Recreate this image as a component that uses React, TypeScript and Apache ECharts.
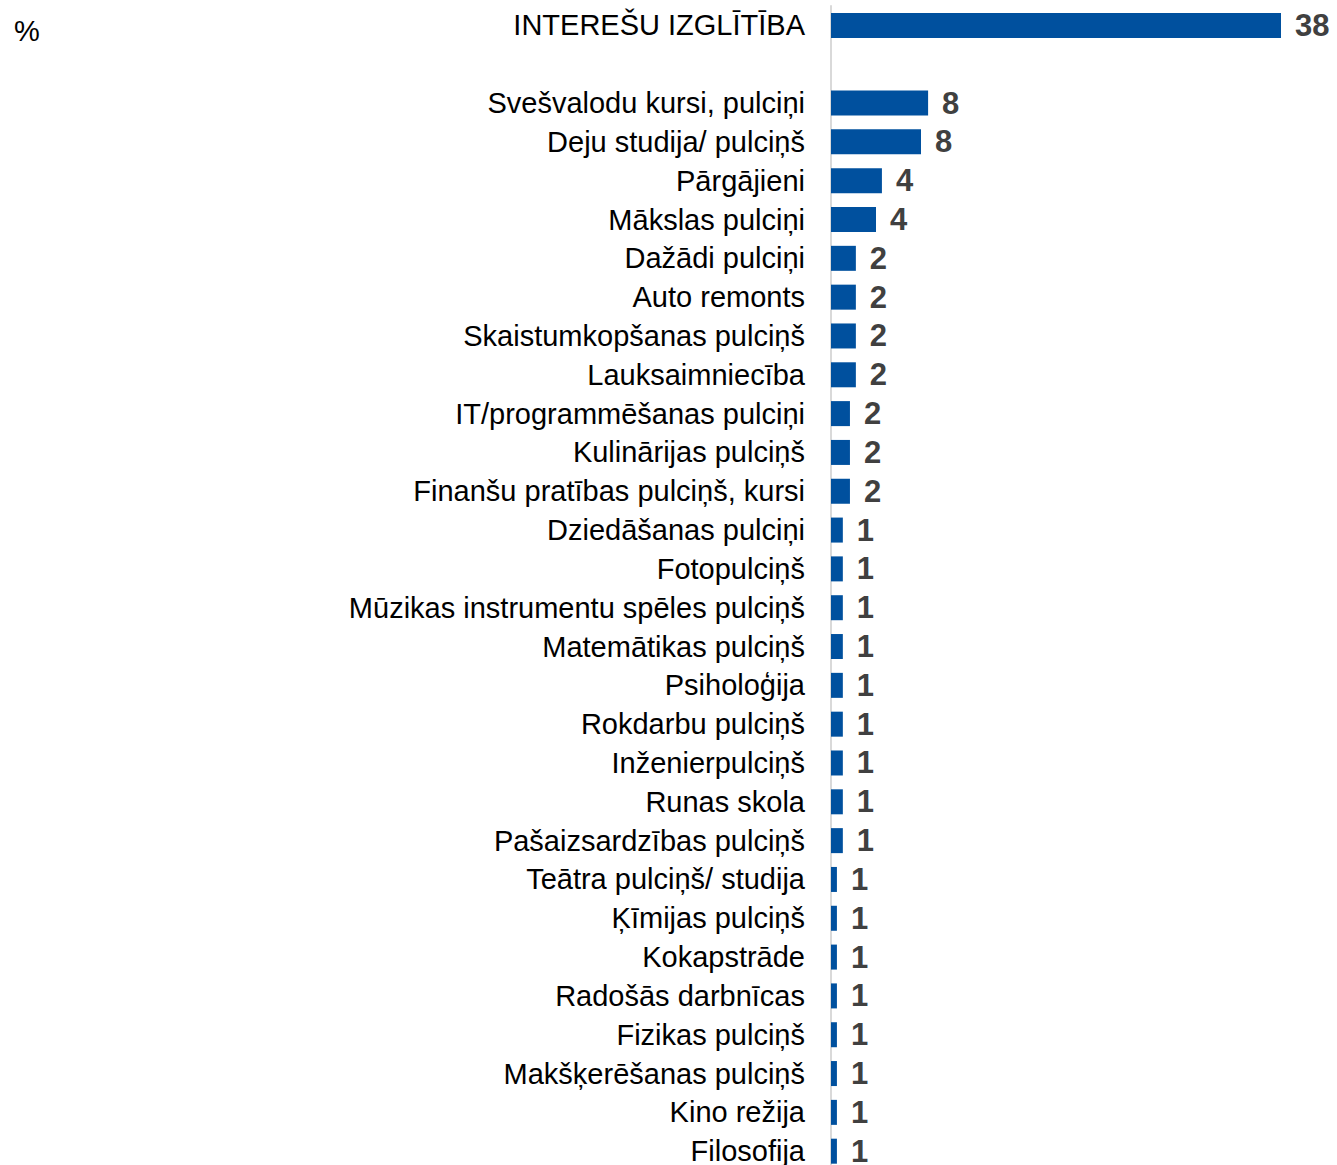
import React, { useEffect, useRef } from "react";
import * as echarts from "echarts";

const categories: string[] = [
  "INTEREŠU IZGLĪTĪBA",
  "",
  "Svešvalodu kursi, pulciņi",
  "Deju studija/ pulciņš",
  "Pārgājieni",
  "Mākslas pulciņi",
  "Dažādi pulciņi",
  "Auto remonts",
  "Skaistumkopšanas pulciņš",
  "Lauksaimniecība",
  "IT/programmēšanas pulciņi",
  "Kulinārijas pulciņš",
  "Finanšu pratības pulciņš, kursi",
  "Dziedāšanas pulciņi",
  "Fotopulciņš",
  "Mūzikas instrumentu spēles pulciņš",
  "Matemātikas pulciņš",
  "Psiholoģija",
  "Rokdarbu pulciņš",
  "Inženierpulciņš",
  "Runas skola",
  "Pašaizsardzības pulciņš",
  "Teātra pulciņš/ studija",
  "Ķīmijas pulciņš",
  "Kokapstrāde",
  "Radošās darbnīcas",
  "Fizikas pulciņš",
  "Makšķerēšanas pulciņš",
  "Kino režija",
  "Filosofija",
];

const values: (number | null)[] = [
  38.0, null,
  8.2, 7.6, 4.3, 3.8,
  2.1, 2.1, 2.1, 2.1,
  1.6, 1.6, 1.6,
  1.0, 1.0, 1.0, 1.0, 1.0, 1.0, 1.0, 1.0, 1.0,
  0.5, 0.5, 0.5, 0.5, 0.5, 0.5, 0.5, 0.5,
];

const unitLabel = "%";

export default function App() {
  const ref = useRef<HTMLDivElement>(null);
  useEffect(() => {
    document.body.style.margin = "0";
    const chart = echarts.init(ref.current!, null, { renderer: "svg" });
    chart.setOption({
      animation: false,
      backgroundColor: "#ffffff",
      textStyle: { fontFamily: "Liberation Sans, Arial, sans-serif" },
      graphic: [
        {
          type: "text",
          left: 14,
          top: 16,
          style: {
            text: unitLabel,
            fontSize: 29,
            fill: "#000000",
            fontFamily: "Liberation Sans, Arial, sans-serif",
          },
        },
      ],
      grid: { left: 831, top: 6, width: 450, height: 1164.6 },
      xAxis: {
        type: "value",
        min: 0,
        max: 38,
        show: false,
      },
      yAxis: {
        type: "category",
        inverse: true,
        data: categories,
        axisLine: { show: true, lineStyle: { color: "#d9d9d9", width: 2 } },
        axisTick: { show: false },
        axisLabel: {
          margin: 26,
          fontSize: 29,
          color: "#000000",
          fontFamily: "Liberation Sans, Arial, sans-serif",
        },
        splitLine: { show: false },
      },
      series: [
        {
          type: "bar",
          data: values,
          barWidth: 25,
          itemStyle: { color: "#00509e" },
          label: {
            show: true,
            position: "right",
            distance: 14,
            fontSize: 31,
            fontWeight: "bold",
            color: "#404040",
            fontFamily: "Liberation Sans, Arial, sans-serif",
            formatter: (p: any) =>
              p.value == null ? "" : String(Math.round(p.value)),
          },
        },
      ],
    });
    return () => chart.dispose();
  }, []);
  return (
    <div style={{ position: "absolute", left: 0, top: 0, width: 1337, height: 1165, overflow: "hidden" }}>
      <div ref={ref} style={{ width: 1337, height: 1180 }} />
    </div>
  );
}
